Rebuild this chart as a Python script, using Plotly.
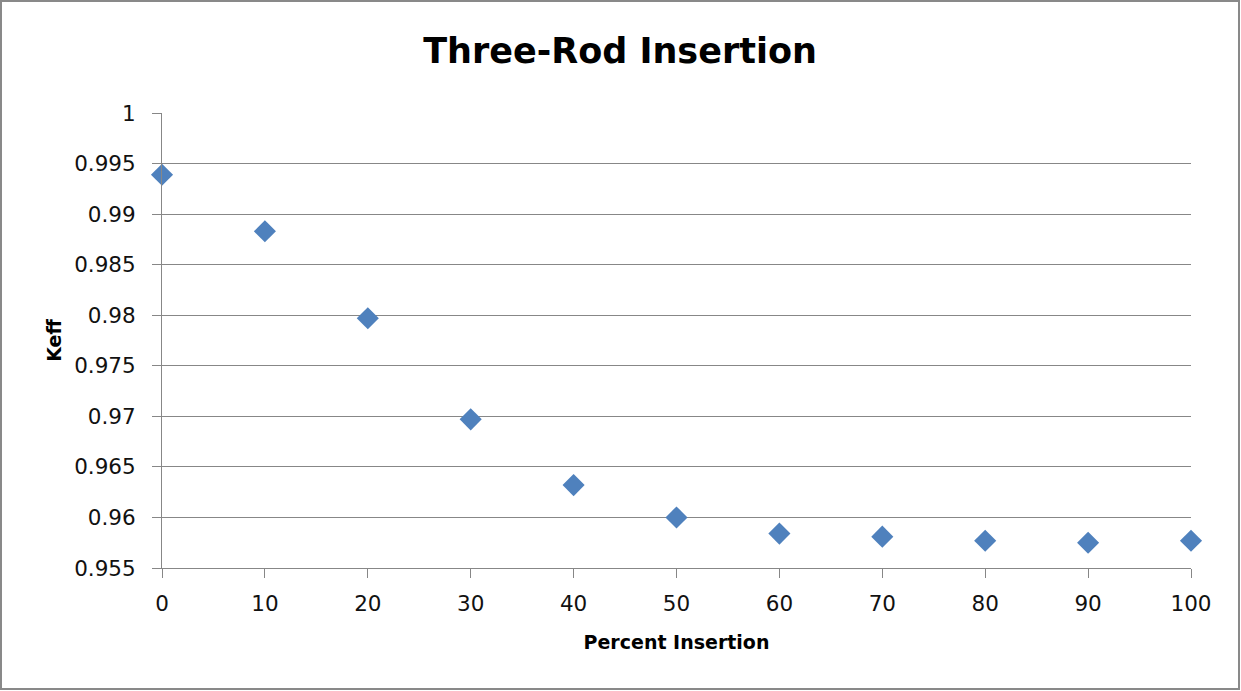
import plotly.graph_objects as go

# ---- data ----
percent_insertion = [0, 10, 20, 30, 40, 50, 60, 70, 80, 90, 100]
keff = [0.9939, 0.9883, 0.9797, 0.9697, 0.9632, 0.9600, 0.9584, 0.9581, 0.9577, 0.9575, 0.9577]
x_ticks = [0, 10, 20, 30, 40, 50, 60, 70, 80, 90, 100]
y_ticks = [0.955, 0.96, 0.965, 0.97, 0.975, 0.98, 0.985, 0.99, 0.995, 1.0]
y_tick_labels = ["0.955", "0.96", "0.965", "0.97", "0.975", "0.98", "0.985", "0.99", "0.995", "1"]

W, H = 1241, 691
ML, MR, MT, MB = 162, 50, 113, 123
PW, PH = W - ML - MR, H - MT - MB

GRID = "#878787"
FONT = "DejaVu Sans"

fig = go.Figure()
fig.add_trace(go.Scatter(
    x=percent_insertion, y=keff, mode="markers",
    marker=dict(symbol="diamond", size=17, color="#4F81BD",
                line=dict(width=0)),
    cliponaxis=False,
    showlegend=False,
))

# outer chart border (pixel rectangle converted to paper coords)
def px_x(p):
    return (p - ML) / PW

def px_y(p):
    return 1 - (p - MT) / PH

fig.add_shape(type="rect", xref="paper", yref="paper",
              x0=px_x(1), x1=px_x(1239), y0=px_y(689), y1=px_y(1),
              line=dict(color="#898989", width=2), fillcolor="rgba(0,0,0,0)",
              layer="below")

fig.update_layout(
    width=W, height=H,
    margin=dict(l=ML, r=MR, t=MT, b=MB, pad=0),
    paper_bgcolor="white", plot_bgcolor="white",
    font=dict(family=FONT, color="black"),
    title=dict(text="<b>Three-Rod Insertion</b>", x=620 / W, xanchor="center",
               y=1 - 51 / H, yanchor="middle",
               font=dict(family=FONT, size=35, color="black")),
)
fig.update_xaxes(
    range=[0, 100], tickvals=x_ticks, ticktext=[str(v) for v in x_ticks],
    showgrid=False, zeroline=False,
    showline=True, linecolor=GRID, linewidth=1,
    ticks="outside", ticklen=9, tickcolor=GRID, tickwidth=1,
    tickfont=dict(family=FONT, size=21.5, color="#111111"),
    ticklabelstandoff=7,
    title=dict(text="<b>Percent Insertion</b>", standoff=20,
               font=dict(family=FONT, size=19, color="black")),
)
fig.update_yaxes(
    range=[0.955, 1.0], tickvals=y_ticks, ticktext=y_tick_labels,
    showgrid=True, gridcolor=GRID, gridwidth=1, zeroline=False,
    showline=True, linecolor=GRID, linewidth=1,
    ticks="outside", ticklen=9, tickcolor=GRID, tickwidth=1,
    tickfont=dict(family=FONT, size=21.5, color="#111111"),
    ticklabelstandoff=12,
    title=dict(text="<b>Keff</b>", standoff=7,
               font=dict(family=FONT, size=19, color="black")),
)

fig.write_html("out.html")
